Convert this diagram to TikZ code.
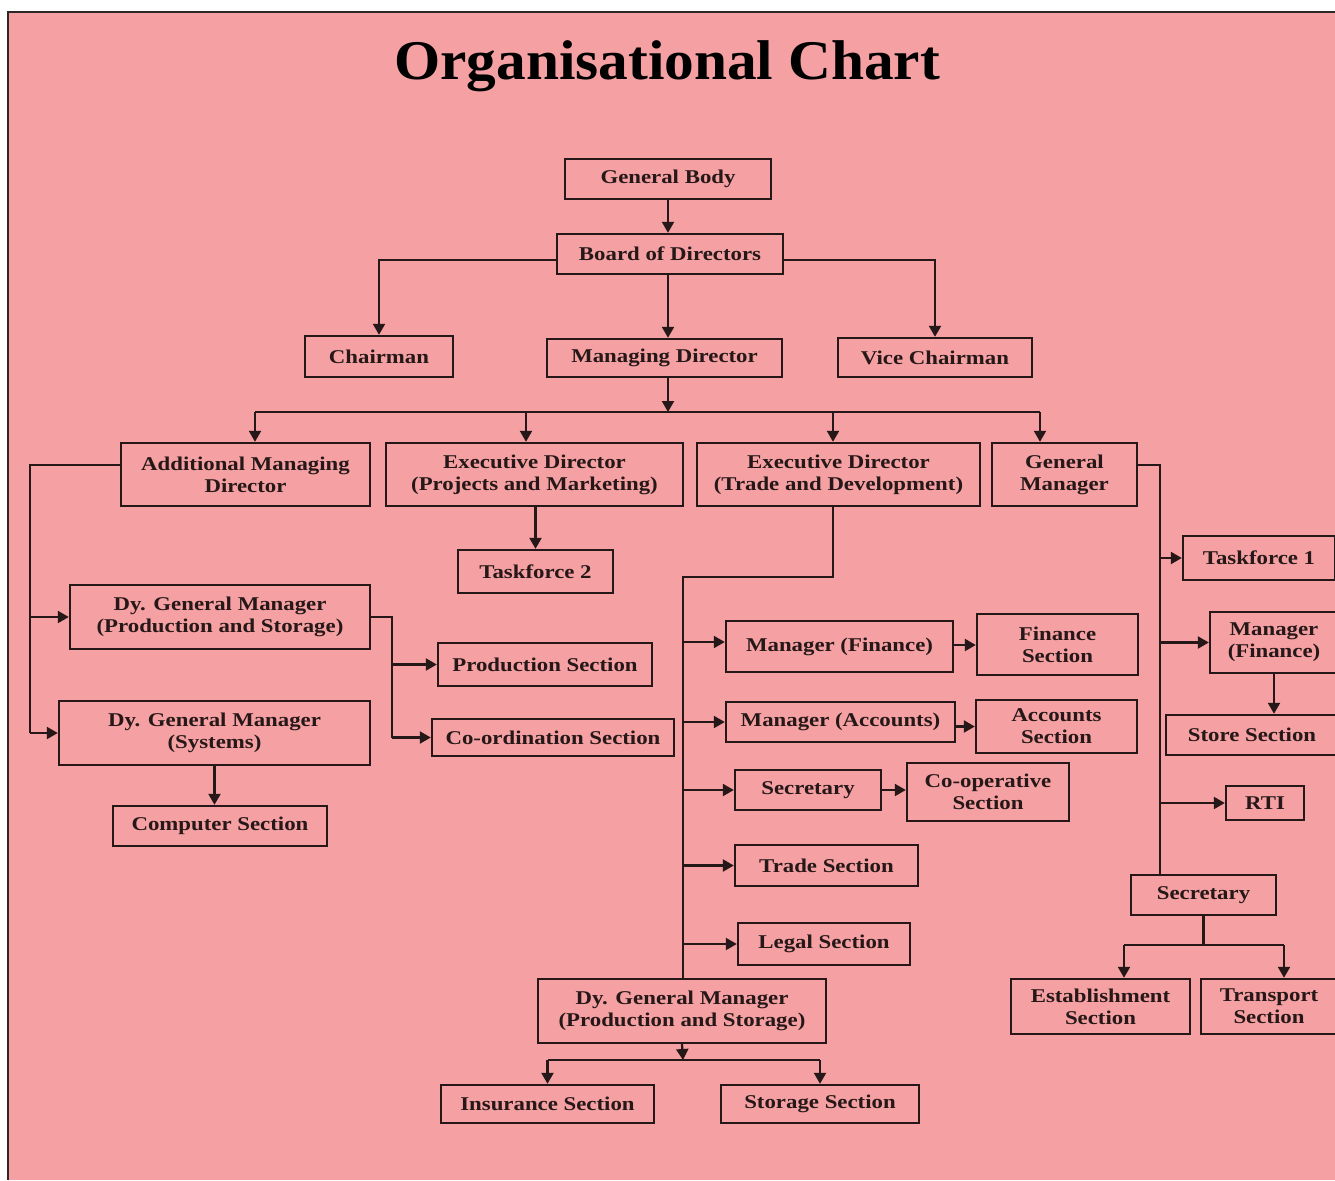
\documentclass[tikz,border=0pt]{standalone}
\usepackage{fontspec}
\setmainfont{Liberation Serif}
\newfontfamily\boxfont{Liberation Serif}[FakeStretch=1.17]
\newfontfamily\titlefont{Liberation Serif}[FakeStretch=1.06]
\usetikzlibrary{arrows.meta}
\definecolor{chartbg}{RGB}{245,160,162}
\definecolor{ink}{RGB}{38,24,24}
\definecolor{frameline}{RGB}{45,40,40}

\tikzset{
  box/.style={draw=ink, line width=2.4pt, inner sep=0pt, align=center,
    text=ink, font=\boxfont\bfseries\fontsize{19.5}{22}\selectfont},
  link/.style={draw=ink, line width=2.2pt},
  tip/.style={link, -{Triangle[length=11pt,width=12pt]}},
}

\begin{document}
\begin{tikzpicture}[x=1pt,y=-1pt]
  % page and coloured panel
  \useasboundingbox (0,0) rectangle (1335,1180);
  \fill[white] (0,0) rectangle (1335,1180);
  \fill[chartbg] (8,12) rectangle (1335,1180);
  \draw[frameline, line width=1.3pt] (8,1180) -- (8,12) -- (1335,12);

  % heading
  \node[anchor=base, inner sep=0pt, text=black,
        font=\titlefont\bfseries\fontsize{56}{60}\selectfont] (title) at (667,80) {Organisational Chart};

  % top levels
  \node[box, minimum width=206pt, minimum height=40pt] (gb)    at (668,179)   {General Body};
  \node[box, minimum width=226pt, minimum height=40pt] (bod)   at (670,254)   {Board of Directors};
  \node[box, minimum width=148pt, minimum height=41pt] (chair) at (379,356.5) {Chairman};
  \node[box, minimum width=235pt, minimum height=38pt] (md)    at (664.5,358) {Managing Director};
  \node[box, minimum width=194pt, minimum height=39pt] (vc)    at (935,357.5) {Vice Chairman};

  % directors row
  \node[box, minimum width=249pt, minimum height=63pt] (amd)  at (245.5,474.5) {Additional Managing\\Director};
  \node[box, minimum width=297pt, minimum height=63pt] (edpm) at (534.5,474.5) {Executive Director\\(Projects and Marketing)};
  \node[box, minimum width=283pt, minimum height=63pt] (edtd) at (838.5,474.5) {Executive Director\\(Trade and Development)};
  \node[box, minimum width=145pt, minimum height=63pt] (gm)   at (1064.5,474.5) {General\\Manager};

  % left branch
  \node[box, minimum width=155pt, minimum height=43pt] (tf2)    at (535.5,571.5) {Taskforce 2};
  \node[box, minimum width=300pt, minimum height=64pt] (dgmps)  at (220,617)     {Dy. General Manager\\(Production and Storage)};
  \node[box, minimum width=311pt, minimum height=64pt] (dgmsys) at (214.5,733)   {Dy. General Manager\\(Systems)};
  \node[box, minimum width=214pt, minimum height=40pt] (comp)   at (220,826)     {Computer Section};
  \node[box, minimum width=214pt, minimum height=43pt] (prod)   at (545,664.5)   {Production Section};
  \node[box, minimum width=242pt, minimum height=37pt] (coord)  at (553,737.5)   {Co-ordination Section};

  % trade and development branch
  \node[box, minimum width=227pt, minimum height=51pt] (mfin)   at (839.5,646.5)  {Manager (Finance)};
  \node[box, minimum width=161pt, minimum height=61pt] (finsec) at (1057.5,644.5) {Finance\\Section};
  \node[box, minimum width=229pt, minimum height=40pt] (macc)   at (840.5,722)    {Manager (Accounts)};
  \node[box, minimum width=161pt, minimum height=53pt] (accsec) at (1056.5,726.5) {Accounts\\Section};
  \node[box, minimum width=146pt, minimum height=40pt] (sec1)   at (808,790)      {Secretary};
  \node[box, minimum width=162pt, minimum height=58pt] (coop)   at (988,792)      {Co-operative\\Section};
  \node[box, minimum width=183pt, minimum height=41pt] (trade)  at (826.5,865.5)  {Trade Section};
  \node[box, minimum width=172pt, minimum height=42pt] (legal)  at (824,944)      {Legal Section};
  \node[box, minimum width=288pt, minimum height=64pt] (dgmps2) at (682,1011)     {Dy. General Manager\\(Production and Storage)};
  \node[box, minimum width=213pt, minimum height=38pt] (ins)    at (547.5,1104)   {Insurance Section};
  \node[box, minimum width=198pt, minimum height=38pt] (stor)   at (820,1104)     {Storage Section};

  % general manager branch
  \node[box, minimum width=152pt, minimum height=44pt] (tf1)   at (1259,558)     {Taskforce 1};
  \node[box, minimum width=128pt, minimum height=61pt] (mfin2) at (1274,642.5)   {Manager\\(Finance)};
  \node[box, minimum width=172pt, minimum height=40pt] (store) at (1252,735)     {Store Section};
  \node[box, minimum width=78pt,  minimum height=34pt] (rti)   at (1265,803)     {RTI};
  \node[box, minimum width=145pt, minimum height=40pt] (sec2)  at (1203.5,895)   {Secretary};
  \node[box, minimum width=179pt, minimum height=55pt] (estab) at (1100.5,1006.5){Establishment\\Section};
  \node[box, minimum width=136pt, minimum height=55pt] (trans) at (1269,1006.5)  {Transport\\Section};

  % junction points
  \coordinate (mdbus) at (668,412);
  \coordinate (busL)  at (255,412);
  \coordinate (busA)  at (526,412);
  \coordinate (busB)  at (833,412);
  \coordinate (busR)  at (1040,412);
  \coordinate (t1)    at (30,465);
  \coordinate (t2)    at (392,617);
  \coordinate (t3a)   at (833,577);
  \coordinate (t3b)   at (683,577);
  \coordinate (t4)    at (683,1060);
  \coordinate (t5)    at (1160,465);
  \coordinate (t6L)   at (1124,945);
  \coordinate (t6R)   at (1284,945);

  % top connectors
  \draw[tip] (gb.south) -- (gb.south |- bod.north);
  \draw[tip] (bod.west |- 0,260) -| (chair.north);
  \draw[tip] (bod.east |- 0,260) -| (vc.north);
  \draw[tip] (mdbus |- bod.south) -- (mdbus |- md.north);
  \draw[tip] (mdbus |- md.south) -- (mdbus);
  \draw[link] (busL) -- (busR);
  \draw[tip] (busL) -- (busL |- amd.north);
  \draw[tip] (busA) -- (busA |- edpm.north);
  \draw[tip] (busB) -- (busB |- edtd.north);
  \draw[tip] (busR) -- (busR |- gm.north);

  % additional managing director
  \draw[link] (amd.west |- t1) -- (t1) -- (t1 |- dgmsys.west);
  \draw[tip] (t1 |- dgmps.west) -- (dgmps.west);
  \draw[tip] (t1 |- dgmsys.west) -- (dgmsys.west);
  \draw[tip] (dgmsys.south) -- (dgmsys.south |- comp.north);
  \draw[link] (dgmps.east) -- (t2) -- (t2 |- coord.west);
  \draw[tip] (t2 |- prod.west) -- (prod.west);
  \draw[tip] (t2 |- coord.west) -- (coord.west);

  % projects and marketing
  \draw[tip] (tf2.north |- edpm.south) -- (tf2.north);

  % trade and development
  \draw[link] (t3a |- edtd.south) -- (t3a) -- (t3b) -- (t3b |- dgmps2.north);
  \draw[tip] (t3b |- 0,642) -- (mfin.west |- 0,642);
  \draw[tip] (t3b |- macc.west) -- (macc.west);
  \draw[tip] (t3b |- sec1.west) -- (sec1.west);
  \draw[tip] (t3b |- trade.west) -- (trade.west);
  \draw[tip] (t3b |- legal.west) -- (legal.west);
  \draw[tip] (mfin.east |- 0,645) -- (finsec.west |- 0,645);
  \draw[tip] (macc.east |- accsec.west) -- (accsec.west);
  \draw[tip] (sec1.east) -- (sec1.east -| coop.west);
  \draw[tip] (dgmps2.south) -- (t4);
  \draw[link] (t4 -| ins.north) -- (t4 -| stor.north);
  \draw[tip] (t4 -| ins.north) -- (ins.north);
  \draw[tip] (t4 -| stor.north) -- (stor.north);

  % general manager
  \draw[link] (gm.east |- t5) -- (t5) -- (t5 |- sec2.north);
  \draw[tip] (t5 |- tf1.west) -- (tf1.west);
  \draw[tip] (t5 |- mfin2.west) -- (mfin2.west);
  \draw[tip] (t5 |- rti.west) -- (rti.west);
  \draw[tip] (mfin2.south) -- (mfin2.south |- store.north);
  \draw[link] (sec2.south) -- (sec2.south |- t6L);
  \draw[link] (t6L) -- (t6R);
  \draw[tip] (t6L) -- (t6L |- estab.north);
  \draw[tip] (t6R) -- (t6R |- trans.north);
\end{tikzpicture}
\end{document}
